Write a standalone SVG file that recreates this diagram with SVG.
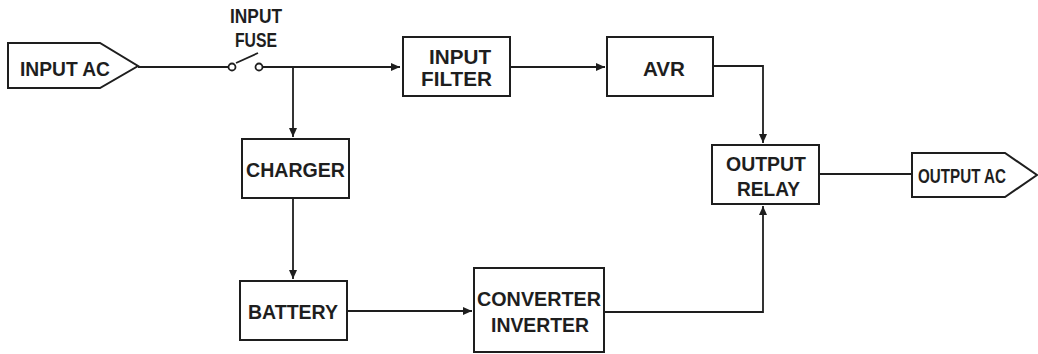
<svg xmlns="http://www.w3.org/2000/svg" width="1038" height="354" viewBox="0 0 1038 354">
<defs>
<marker id="arr" markerWidth="10" markerHeight="8" refX="9" refY="4" orient="auto" markerUnits="userSpaceOnUse">
<path d="M0,0 L9,4 L0,8 Z" fill="#1e1e1e"/>
</marker>
<style>
.box{fill:#fff;stroke:#1e1e1e;stroke-width:2}
.ln{fill:none;stroke:#1e1e1e;stroke-width:1.8}
.t{font-family:"Liberation Sans",Arial,sans-serif;font-weight:bold;font-size:21px;fill:#1e1e1e;text-anchor:middle}
</style>
</defs>
<rect width="1038" height="354" fill="#fff"/>
<g id="connectors">
<line class="ln" x1="138" y1="67" x2="229" y2="67"/>
<line class="ln" x1="236" y1="63" x2="258" y2="53"/>
<path class="ln" d="M262,67 H400" marker-end="url(#arr)"/>
<path class="ln" d="M293,67 V137" marker-end="url(#arr)"/>
<path class="ln" d="M510,67 H605" marker-end="url(#arr)"/>
<path class="ln" d="M713,66 H763 V143" marker-end="url(#arr)"/>
<path class="ln" d="M293,198 V279" marker-end="url(#arr)"/>
<path class="ln" d="M347,311 H472" marker-end="url(#arr)"/>
<path class="ln" d="M604,312 H763 V206" marker-end="url(#arr)"/>
<line class="ln" x1="819" y1="174" x2="912" y2="174"/>
</g>
<g id="input-ac">
<path class="box" d="M8,43 H100 L138,66 L100,88 H8 Z"/>
<text class="t" x="65" y="76" font-size="24" textLength="90" lengthAdjust="spacingAndGlyphs">INPUT AC</text>
</g>
<g id="input-fuse">
<circle cx="232" cy="67" r="3.5" fill="#fff" stroke="#1e1e1e" stroke-width="1.8"/>
<circle cx="259" cy="67" r="3.5" fill="#fff" stroke="#1e1e1e" stroke-width="1.8"/>
<text class="t" x="256" y="23" textLength="52" lengthAdjust="spacingAndGlyphs">INPUT</text>
<text class="t" x="256" y="47" textLength="42" lengthAdjust="spacingAndGlyphs">FUSE</text>
</g>
<g id="input-filter">
<rect class="box" x="403" y="37" width="107" height="59"/>
<text class="t" x="460" y="63.5" textLength="62" lengthAdjust="spacingAndGlyphs">INPUT</text>
<text class="t" x="456.5" y="85.5" textLength="71" lengthAdjust="spacingAndGlyphs">FILTER</text>
</g>
<g id="avr">
<rect class="box" x="607" y="37" width="106" height="59"/>
<text class="t" x="664" y="75.5" textLength="42" lengthAdjust="spacingAndGlyphs">AVR</text>
</g>
<g id="charger">
<rect class="box" x="242" y="139" width="107" height="59"/>
<text class="t" x="295.5" y="176.5" textLength="99" lengthAdjust="spacingAndGlyphs">CHARGER</text>
</g>
<g id="battery">
<rect class="box" x="240" y="281" width="107" height="59"/>
<text class="t" x="293" y="318.5" textLength="90" lengthAdjust="spacingAndGlyphs">BATTERY</text>
</g>
<g id="converter-inverter">
<rect class="box" x="474" y="268" width="130" height="84"/>
<text class="t" x="539" y="305.5" textLength="124" lengthAdjust="spacingAndGlyphs">CONVERTER</text>
<text class="t" x="540" y="331.5" textLength="98" lengthAdjust="spacingAndGlyphs">INVERTER</text>
</g>
<g id="output-relay">
<rect class="box" x="712" y="145" width="107" height="59"/>
<text class="t" x="766" y="170.5" textLength="80" lengthAdjust="spacingAndGlyphs">OUTPUT</text>
<text class="t" x="768.5" y="195.5" textLength="63" lengthAdjust="spacingAndGlyphs">RELAY</text>
</g>
<g id="output-ac">
<path class="box" d="M912,153 H1005 L1037,175 L1005,197 H912 Z"/>
<text class="t" x="962" y="183" font-size="20" textLength="88" lengthAdjust="spacingAndGlyphs">OUTPUT AC</text>
</g>
</svg>
